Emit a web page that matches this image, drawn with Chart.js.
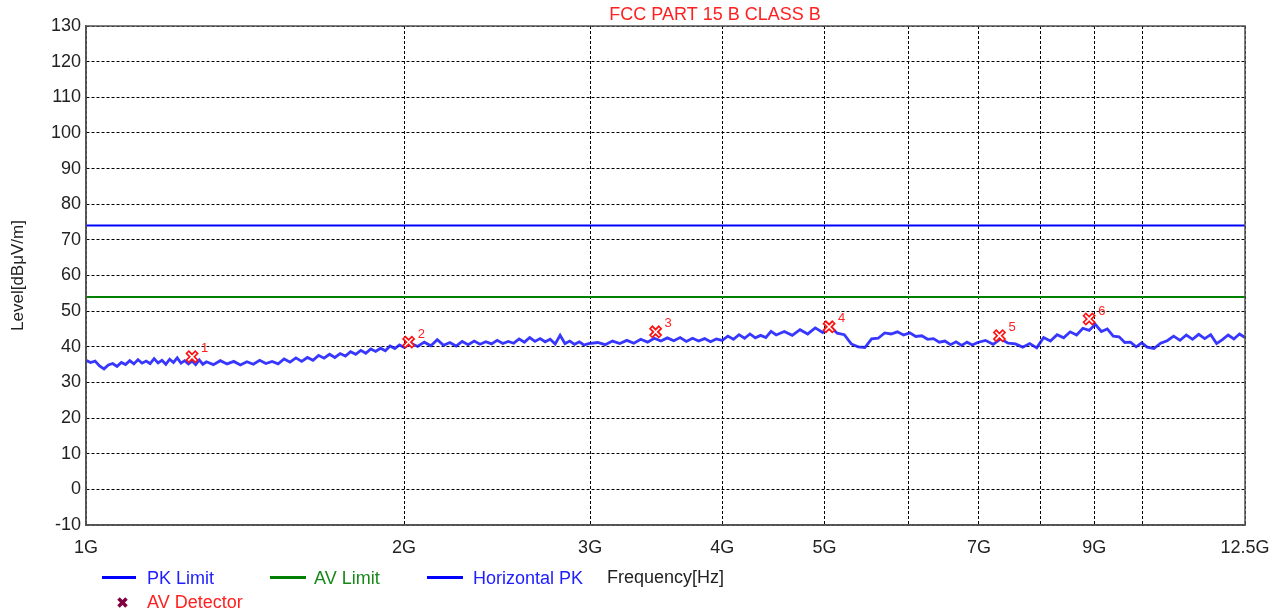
<!DOCTYPE html>
<html>
<head>
<meta charset="utf-8">
<script src="https://cdn.jsdelivr.net/npm/chart.js@4/dist/chart.umd.min.js"></script>
<style>
  body { margin: 0; background: #fff; font-family: "Liberation Sans", Arial, sans-serif; }
  #wrap { position: relative; width: 1284px; height: 613px; }
  .lg { position: absolute; font-size: 18px; line-height: 22px; white-space: nowrap; }
  .ln { position: absolute; height: 3px; }
</style>
</head>
<body>
<div id="wrap">
  <canvas id="emiChart" width="1284" height="613"></canvas>

  <div class="ln" style="left:102px;top:576px;width:34px;background:#0000ff"></div>
  <div class="lg" style="left:147px;top:567px;color:#2020ff">PK Limit</div>
  <div class="ln" style="left:270px;top:576px;width:36px;background:#008000"></div>
  <div class="lg" style="left:314px;top:567px;color:#188818">AV Limit</div>
  <div class="ln" style="left:427px;top:576px;width:36px;background:#0000ff"></div>
  <div class="lg" style="left:473px;top:567px;color:#2020ff">Horizontal PK</div>

  <svg style="position:absolute;left:116px;top:596px" width="13" height="13">
    <path d="M2.5 2.5L10.5 10.5M10.5 2.5L2.5 10.5" stroke="#800040" stroke-width="3.5" />
  </svg>
  <div class="lg" style="left:147px;top:591px;color:#ff2020">AV Detector</div>
</div>

<script>
// ----------------------
// DATA
// ----------------------
const xTicks = [1, 2, 3, 4, 5, 6, 7, 8, 9, 10, 12.5];
const xLabels = { 1: "1G", 2: "2G", 3: "3G", 4: "4G", 5: "5G", 7: "7G", 9: "9G", 12.5: "12.5G" };

const pkLimit = 74;
const avLimit = 54;

// horizontal PK sweep, frequency in GHz
const traceFreq = [
  1.00, 1.01, 1.02, 1.03, 1.04, 1.05, 1.06, 1.07, 1.08, 1.09, 1.10, 1.11, 1.12, 1.13, 1.14, 1.15,
  1.16, 1.17, 1.18, 1.19, 1.20, 1.21, 1.22, 1.23, 1.24, 1.25, 1.26, 1.27, 1.28, 1.29, 1.30,
  1.32, 1.34, 1.36, 1.38, 1.40, 1.42, 1.44, 1.46, 1.48, 1.50, 1.52, 1.54, 1.56, 1.58, 1.60, 1.62,
  1.64, 1.66, 1.68, 1.70, 1.72, 1.74, 1.76, 1.78, 1.80, 1.82, 1.84, 1.86, 1.88, 1.90, 1.92, 1.94,
  1.96, 1.98, 2.00,
  2.03, 2.06, 2.09, 2.12, 2.15, 2.18, 2.21, 2.24, 2.27, 2.30, 2.33, 2.36, 2.39, 2.42, 2.45, 2.48,
  2.51, 2.54, 2.57, 2.60, 2.63, 2.66, 2.69, 2.72, 2.75, 2.78, 2.81, 2.84, 2.87, 2.90, 2.93, 2.96, 2.99,
  3.05, 3.10, 3.15, 3.20, 3.25, 3.30, 3.35, 3.40, 3.45, 3.50, 3.55, 3.60, 3.65, 3.70, 3.75, 3.80,
  3.85, 3.90, 3.95, 4.00, 4.05, 4.10, 4.15, 4.20, 4.25, 4.30, 4.35, 4.40, 4.45, 4.50,
  4.58, 4.66, 4.74, 4.82, 4.90, 4.98, 5.06, 5.14, 5.22, 5.30, 5.38, 5.46, 5.54, 5.62, 5.70, 5.78,
  5.86, 5.94, 6.02, 6.10, 6.18, 6.26, 6.34, 6.42, 6.50, 6.58, 6.66, 6.74, 6.82, 6.90, 6.98,
  7.10, 7.22, 7.34, 7.46, 7.58, 7.70, 7.82, 7.94, 8.06, 8.18, 8.30, 8.42, 8.54, 8.66, 8.78, 8.90,
  9.02, 9.14, 9.26, 9.38, 9.50, 9.62, 9.74, 9.86, 9.98, 10.10,
  10.25, 10.40, 10.55, 10.70, 10.85, 11.00, 11.15, 11.30, 11.45, 11.60, 11.75, 11.90, 12.05, 12.20,
  12.35, 12.50
];

const traceLevel = [
  36.2, 35.6, 36.0, 34.6, 33.8, 34.9, 35.3, 34.5, 35.6, 35.0, 36.1, 35.2, 36.4, 35.4, 36.0, 35.3,
  36.7, 35.5, 36.2, 35.1, 36.5, 35.6, 36.9, 35.4, 36.1, 35.2, 36.0, 35.0, 36.3, 35.1, 35.8,
  35.0, 36.1, 35.2, 35.9, 34.9, 35.8, 35.1, 36.2, 35.3, 35.9, 35.2, 36.6, 35.7, 36.9, 35.9, 37.0,
  36.2, 37.6, 36.8, 37.9, 37.0, 38.1, 37.4, 38.6, 37.9, 39.0, 38.2, 39.4, 38.7, 39.6, 38.9, 40.2,
  39.5, 40.5, 39.8,
  41.0, 40.1, 41.3, 40.3, 42.0, 40.4, 41.2, 40.2, 41.5, 40.6, 41.6, 40.7, 41.4, 40.8, 41.8, 40.9,
  41.5, 41.0, 42.2, 41.3, 42.6, 41.5, 42.3, 41.4, 42.1, 40.8, 43.2, 40.9, 41.6, 40.7, 41.4, 40.5, 40.9,
  41.2, 40.6, 41.6, 40.9, 41.8, 41.0, 42.1, 41.3, 42.4, 41.6, 42.5, 41.7, 42.6, 41.5, 42.4, 41.6,
  42.3, 41.4, 42.2, 41.8, 43.0, 42.1, 43.4, 42.4, 43.6, 42.5, 43.2, 42.6, 44.3, 43.3,
  44.3, 43.2, 44.8, 43.6, 45.3, 44.0, 45.7, 43.8, 43.4, 40.8, 40.0, 39.8, 42.2, 42.4, 43.9, 43.6,
  44.2, 43.3, 43.9, 42.9, 43.1, 42.1, 42.3, 41.3, 41.6, 40.6, 41.4, 40.4, 41.3, 40.5, 41.2,
  41.8, 40.7, 42.2, 41.0, 40.8, 39.9, 40.9, 39.7, 42.6, 41.6, 43.4, 42.5, 44.2, 43.3, 45.2, 44.6,
  46.3, 44.3, 45.0, 43.0, 42.8, 41.2, 41.3, 40.0, 41.1, 39.9,
  39.5, 41.0, 41.7, 43.0, 41.8, 43.3, 42.1, 43.5, 42.3, 43.4, 40.9, 42.0, 43.3, 42.2,
  43.6, 42.6
];

// AV detector final readings
const markerNo = ["1", "2", "3", "4", "5", "6"];
const markerFreq = [1.26, 2.02, 3.46, 5.05, 7.32, 8.90];
const markerLevel = [37.2, 41.3, 44.2, 45.6, 43.1, 47.8];

// ----------------------
// PLUGINS
// ----------------------
const frame = {
  id: "frame",
  afterDraw(chart) {
    const { ctx, chartArea: a } = chart;
    ctx.save();
    ctx.strokeStyle = "#555";
    ctx.lineWidth = 1.5;
    ctx.strokeRect(a.left, a.top, a.right - a.left, a.bottom - a.top);

    ctx.fillStyle = "#ff2020";
    ctx.font = '18px "Liberation Sans", Arial, sans-serif';
    ctx.textAlign = "center";
    ctx.textBaseline = "middle";
    ctx.fillText("FCC PART 15 B CLASS B", 715, 15);

    // marker numbers
    const meta = chart.getDatasetMeta(1);
    ctx.font = '13px "Liberation Sans", Arial, sans-serif';
    ctx.textAlign = "left";
    meta.data.forEach((pt, i) => {
      ctx.fillText(markerNo[i], pt.x + 9, pt.y - 8);
    });
    ctx.restore();
  }
};

// ----------------------
// CHART
// ----------------------
const tracePts = traceFreq.map((f, i) => ({ x: f, y: traceLevel[i] }));
const markerPts = markerFreq.map((f, i) => ({ x: f, y: markerLevel[i] }));

const tickFont = { family: '"Liberation Sans", Arial, sans-serif', size: 18 };

new Chart(document.getElementById("emiChart"), {
  type: "scatter",
  data: {
    datasets: [
      {
        label: "AV Detector inner",
        data: markerPts,
        pointStyle: "crossRot",
        pointRadius: 5.5,
        borderColor: "#fff",
        pointBorderWidth: 1.5,
        showLine: false
      },
      {
        label: "AV Detector",
        data: markerPts,
        pointStyle: "crossRot",
        pointRadius: 7,
        borderColor: "#ff1010",
        pointBorderWidth: 5,
        showLine: false
      },
      {
        label: "Horizontal PK",
        data: tracePts,
        showLine: true,
        borderColor: "rgba(20,20,255,0.85)",
        borderWidth: 2.8,
        pointRadius: 0,
        tension: 0
      },
      {
        label: "PK Limit",
        data: [{ x: 1, y: pkLimit }, { x: 12.5, y: pkLimit }],
        showLine: true,
        borderColor: "#0000ff",
        borderWidth: 2,
        pointRadius: 0
      },
      {
        label: "AV Limit",
        data: [{ x: 1, y: avLimit }, { x: 12.5, y: avLimit }],
        showLine: true,
        borderColor: "#008000",
        borderWidth: 2,
        pointRadius: 0
      }
    ]
  },
  options: {
    responsive: false,
    animation: false,
    layout: { padding: { left: 0, right: 39, top: 26, bottom: 0 } },
    plugins: { legend: { display: false }, tooltip: { enabled: false } },
    scales: {
      x: {
        type: "logarithmic",
        min: 1,
        max: 12.5,
        afterBuildTicks: s => { s.ticks = xTicks.map(v => ({ value: v })); },
        afterFit: s => { s.height = 88; },
        ticks: {
          autoSkip: false,
          maxRotation: 0,
          padding: 12,
          color: "#222",
          font: tickFont,
          callback: v => xLabels[v] || ""
        },
        grid: { color: "#000", lineWidth: 1, drawTicks: false },
        border: { color: "#555", width: 1.5, dash: [3, 2] },
        title: {
          display: true,
          text: "Frequency[Hz]",
          color: "#222",
          font: tickFont,
          padding: { top: 0, bottom: 24 }
        }
      },
      y: {
        min: -10,
        max: 130,
        afterFit: s => { s.width = 86; },
        ticks: {
          stepSize: 10,
          padding: 5,
          color: "#222",
          font: tickFont
        },
        grid: { color: "#000", lineWidth: 1, drawTicks: false },
        border: { color: "#555", width: 1.5, dash: [3, 2] },
        title: {
          display: true,
          text: "Level[dBμV/m]",
          color: "#222",
          font: { family: '"Liberation Sans", Arial, sans-serif', size: 17 },
          padding: { top: 8, bottom: 0 }
        }
      }
    }
  },
  plugins: [frame]
});
</script>
</body>
</html>
